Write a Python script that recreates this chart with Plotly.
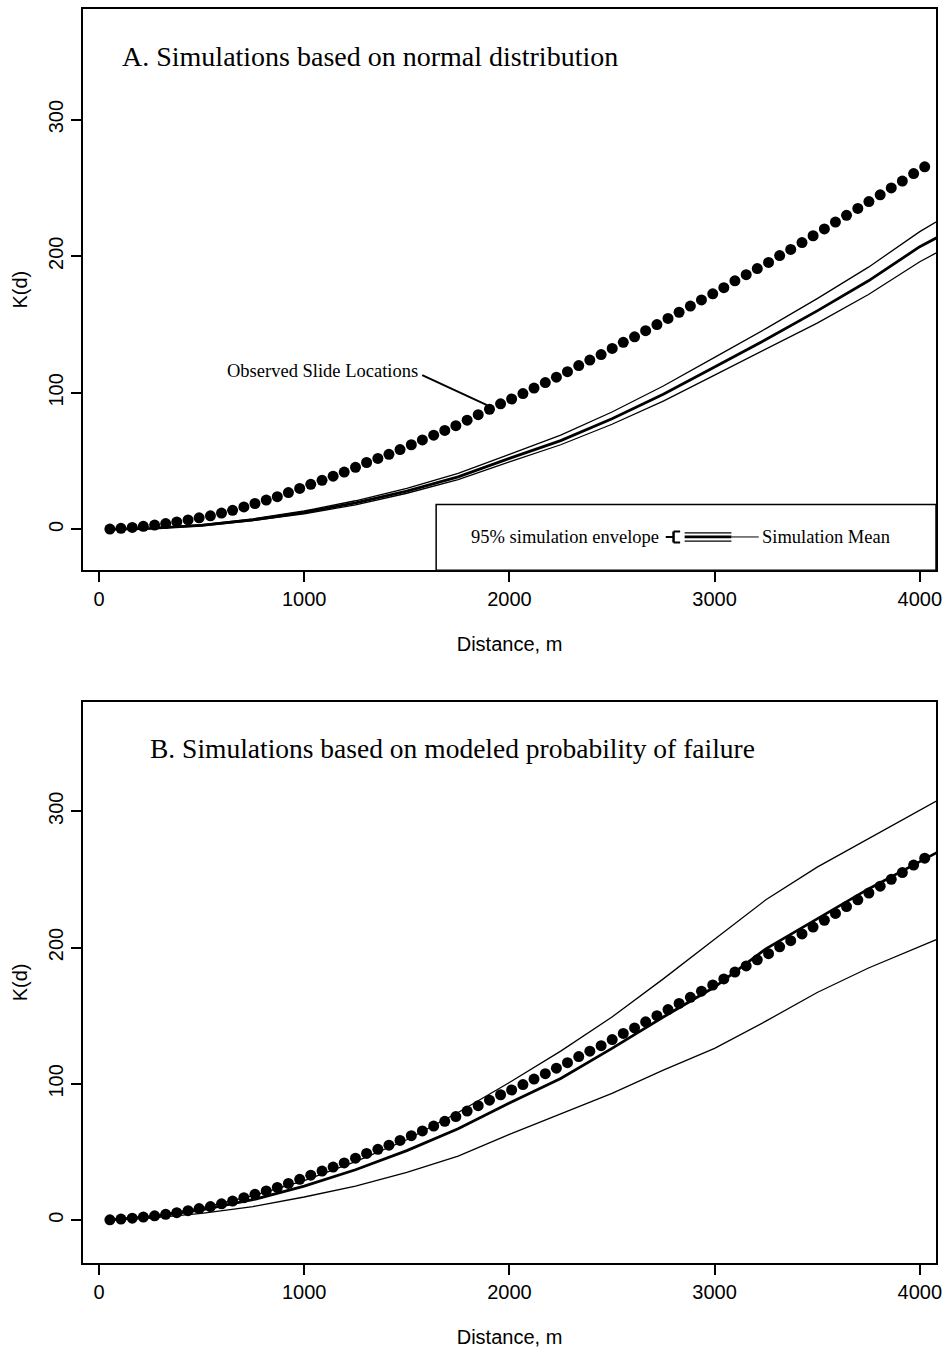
import plotly.graph_objects as go
from plotly.subplots import make_subplots

# ---------------- data ----------------
obs_distance = [53, 107, 162, 216, 271, 325, 379, 434, 488, 543, 597, 651, 706, 760, 815, 869,
                923, 978, 1032, 1087, 1141, 1195, 1250, 1304, 1359, 1413, 1467, 1522, 1576, 1631,
                1685, 1739, 1794, 1848, 1903, 1957, 2011, 2066, 2120, 2175, 2229, 2283, 2338, 2392,
                2447, 2501, 2555, 2610, 2664, 2719, 2773, 2827, 2882, 2936, 2991, 3045, 3099, 3154,
                3208, 3263, 3317, 3371, 3426, 3480, 3535, 3589, 3643, 3698, 3752, 3807, 3861, 3915,
                3970, 4024]
obs_K = [0.3, 0.8, 1.5, 2.3, 3.2, 4.3, 5.5, 7, 8.5, 10, 12, 14, 16.5, 19, 21.5, 24,
         27, 30, 33, 36, 39, 42, 45.5, 49, 52, 55, 58.5, 62, 65.5, 69,
         72.5, 76, 80, 84, 88, 92, 95.5, 99.5, 103.5, 107.5, 111.5, 115.5, 120, 124,
         128, 132.5, 137, 141, 145.5, 150, 154.5, 159, 163.5, 168, 172.5, 177, 182, 186.5,
         191, 195.5, 200.5, 205, 210, 215, 220, 225, 230, 235, 240, 245, 250, 255,
         260.5, 265.5]

sim_distance = [50, 250, 500, 750, 1000, 1250, 1500, 1750, 2000, 2250, 2500, 2750, 3000,
                3250, 3500, 3750, 4000, 4100]

# Panel A: normal distribution simulations
a_mean = [0, 0.8, 3, 7, 12.5, 19.5, 28, 38.5, 52, 65, 81, 99, 119, 139, 160, 182, 207, 215]
a_upper = [0, 1, 3.5, 7.8, 13.5, 21, 30, 41, 55, 69, 86, 105, 126, 147, 169, 192, 218, 227]
a_lower = [0, 0.6, 2.6, 6.5, 11.5, 18, 26.5, 36.5, 49.5, 62, 77, 94, 113, 132, 151, 172, 196, 204]

# Panel B: modeled probability of failure simulations
b_mean = [0.3, 2.5, 7.5, 15, 25, 37, 51, 67, 86, 104, 126, 149, 171, 199, 221, 243, 263, 271]
b_upper = [0.5, 3, 9, 18, 29, 43, 59, 79, 101, 124, 149, 177, 206, 235, 259, 280, 301, 309]
b_lower = [0.2, 1.5, 5, 10, 17, 25, 35, 47, 63, 78, 93, 110, 126, 146, 167, 185, 201, 207]

title_a = "A. Simulations based on normal distribution"
title_b = "B. Simulations based on modeled probability of failure"
x_ticks = [0, 1000, 2000, 3000, 4000]
y_ticks = [0, 100, 200, 300]

# ---------------- figure ----------------
fig = make_subplots(rows=2, cols=1, vertical_spacing=0.1048)

SERIF = "Liberation Serif, Times New Roman, serif"
SANS = "Liberation Sans, Arial, sans-serif"

def add_panel(row, mean, upper, lower):
    for vals, w in ((upper, 1.3), (lower, 1.3), (mean, 2.8)):
        fig.add_trace(go.Scatter(x=sim_distance, y=vals, mode="lines",
                                 line=dict(color="black", width=w), showlegend=False,
                                 hoverinfo="skip"), row=row, col=1)
    fig.add_trace(go.Scatter(x=obs_distance, y=obs_K, mode="markers",
                             marker=dict(color="black", size=11), showlegend=False),
                  row=row, col=1)

add_panel(1, a_mean, a_upper, a_lower)
add_panel(2, b_mean, b_upper, b_lower)

axis_common = dict(showline=True, mirror=True, linecolor="black", linewidth=2,
                   ticks="outside", ticklen=10, tickwidth=1.5, tickcolor="black",
                   showgrid=False, zeroline=False,
                   tickfont=dict(family=SANS, size=20, color="black"))

for r in (1, 2):
    fig.update_xaxes(range=[-78, 4079], tickvals=x_ticks,
                     title=dict(text="Distance, m", font=dict(family=SANS, size=20, color="black"),
                                standoff=28),
                     row=r, col=1, **axis_common)
fig.update_yaxes(range=[-29.9, 381], tickvals=y_ticks, tickangle=-90,
                 title=dict(text="K(d)", font=dict(family=SANS, size=20, color="black"), standoff=12),
                 row=1, col=1, **axis_common)
fig.update_yaxes(range=[-31.4, 380.3], tickvals=y_ticks, tickangle=-90,
                 title=dict(text="K(d)", font=dict(family=SANS, size=20, color="black"), standoff=12),
                 row=2, col=1, **axis_common)

# panel titles
fig.add_annotation(x=102, y=346, xref="x", yref="y", xanchor="left", yanchor="middle",
                   text=title_a, showarrow=False, font=dict(family=SERIF, size=28, color="black"))
fig.add_annotation(x=238, y=346, xref="x2", yref="y2", xanchor="left", yanchor="middle",
                   text=title_b, showarrow=False, font=dict(family=SERIF, size=27.5, color="black"))

# Observed slide label with pointer
fig.add_annotation(x=1565, y=116, xref="x", yref="y", xanchor="right", yanchor="middle",
                   text="Observed Slide Locations", showarrow=False,
                   font=dict(family=SERIF, size=18.5, color="black"))
fig.add_shape(type="line", x0=1575, y0=113, x1=1891, y1=91, xref="x", yref="y",
              line=dict(color="black", width=2))

# legend box (panel A)
fig.add_shape(type="rect", x0=1643, y0=-29.9, x1=4079, y1=18.2, xref="x", yref="y",
              line=dict(color="black", width=1.5), fillcolor="white", layer="above")
fig.add_annotation(x=2740, y=-5.5, xref="x", yref="y", xanchor="right", yanchor="middle",
                   text="95% simulation envelope", showarrow=False,
                   font=dict(family=SERIF, size=18.5, color="black"))
# bracket
fig.add_shape(type="line", x0=2762, y0=-5.5, x1=2800, y1=-5.5, xref="x", yref="y",
              line=dict(color="black", width=2), layer="above")
fig.add_shape(type="line", x0=2800, y0=-1.5, x1=2800, y1=-9.5, xref="x", yref="y",
              line=dict(color="black", width=2.5), layer="above")
for yy in (-1.5, -9.5):
    fig.add_shape(type="line", x0=2800, y0=yy, x1=2832, y1=yy, xref="x", yref="y",
                  line=dict(color="black", width=2), layer="above")
# three sample lines
for yy, w in ((-2.5, 1.3), (-5.5, 2.8), (-8.5, 1.3)):
    fig.add_shape(type="line", x0=2854, y0=yy, x1=3082, y1=yy, xref="x", yref="y",
                  line=dict(color="black", width=w), layer="above")
fig.add_shape(type="line", x0=3082, y0=-5.5, x1=3215, y1=-5.5, xref="x", yref="y",
              line=dict(color="black", width=1), layer="above")
fig.add_annotation(x=3220, y=-5.5, xref="x", yref="y", xanchor="left", yanchor="middle",
                   text="Simulation Mean", showarrow=False,
                   font=dict(family=SERIF, size=18.5, color="black"))

fig.update_layout(width=949, height=1352, margin=dict(l=83, r=11, t=7, b=86),
                  paper_bgcolor="white", plot_bgcolor="white", showlegend=False)

fig.write_html("out.html", config={"displayModeBar": False},
               post_script="document.body.style.margin='0';")
